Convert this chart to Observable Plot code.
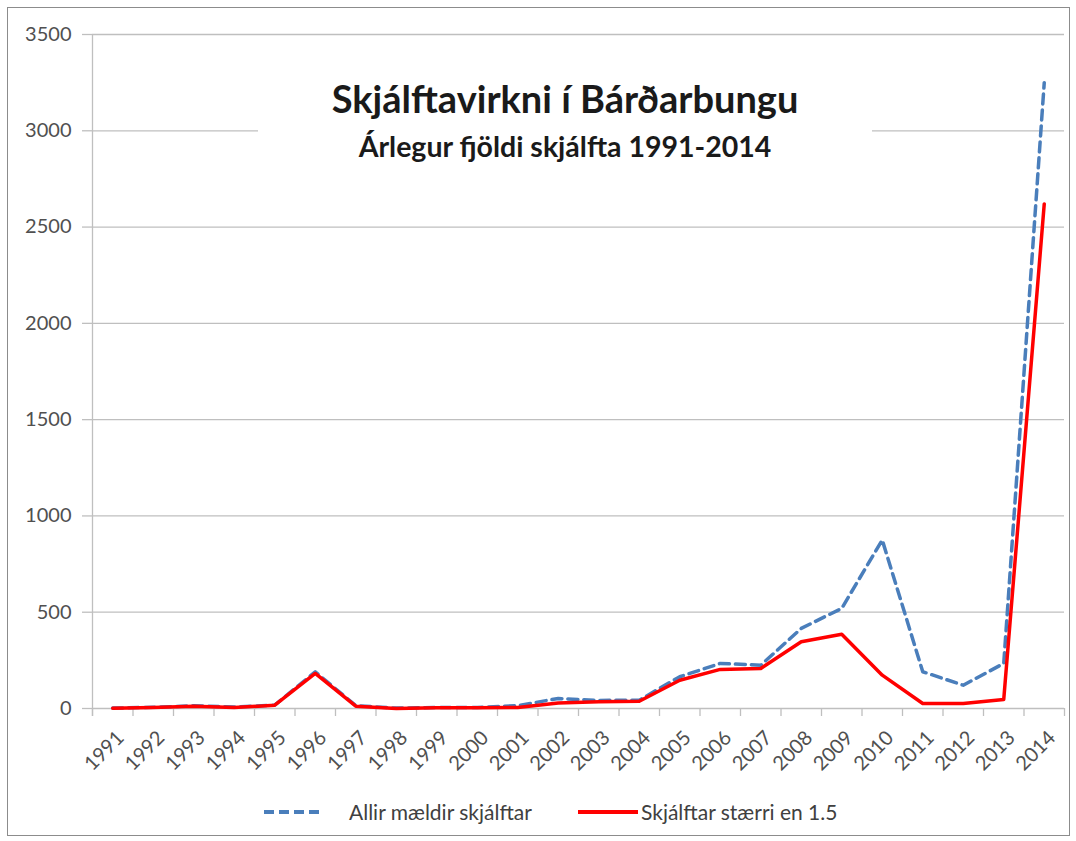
<!DOCTYPE html>
<html>
<head>
<meta charset="utf-8">
<script src="https://cdn.jsdelivr.net/npm/d3@7"></script>
<script src="https://cdn.jsdelivr.net/npm/@observablehq/plot@0.6"></script>
<style>
  html, body { margin: 0; padding: 0; background: #ffffff; }
  #wrap { position: relative; width: 1076px; height: 841px; overflow: hidden; font-family: Lato, "Open Sans", sans-serif; }
  #frame { position: absolute; left: 7px; top: 7px; width: 1061px; height: 827px; border: 1.5px solid #8c8c8c; }
  #chart { position: absolute; left: 0; top: 0; }
  #titlebox { position: absolute; left: 258px; top: 66px; width: 614px; height: 120px; background: #ffffff; }
  .t1 { position: absolute; left: 0; width: 100%; text-align: center; font-weight: 700; color: #1a1a1a; white-space: nowrap; }
  .leg { position: absolute; font-size: 21px; color: #404040; line-height: 26px; white-space: nowrap; }
  .sw { position: absolute; }
</style>
</head>
<body>
<div id="wrap">
  <div id="frame"></div>
  <div id="chart"></div>
  <div id="titlebox">
    <div class="t1" id="title" style="top:9px; font-size:38px; line-height:46px;"></div>
    <div class="t1" id="subtitle" style="top:63px; font-size:28.5px; line-height:34px;"></div>
  </div>
  <div id="legend"></div>
</div>
<script>
const titleText = "Skjálftavirkni í Bárðarbungu";
const subtitleText = "Árlegur fjöldi skjálfta 1991-2014";

const years = [1991, 1992, 1993, 1994, 1995, 1996, 1997, 1998, 1999, 2000, 2001, 2002,
               2003, 2004, 2005, 2006, 2007, 2008, 2009, 2010, 2011, 2012, 2013, 2014];
// Allir mældir skjálftar (all measured earthquakes)
const allQuakes = [2, 6, 14, 8, 18, 190, 15, 2, 5, 5, 15, 52,
                   42, 43, 165, 234, 225, 416, 520, 875, 191, 121, 234, 3250];
// Skjálftar stærri en 1.5 (earthquakes larger than 1.5)
const largerQuakes = [1, 5, 12, 5, 17, 182, 12, 0, 4, 4, 5, 29,
                      35, 38, 147, 203, 208, 347, 386, 173, 26, 26, 47, 2620];
const yTicks = [0, 500, 1000, 1500, 2000, 2500, 3000, 3500];
const seriesNames = ["Allir mældir skjálftar", "Skjálftar stærri en 1.5"];
const seriesColors = ["#4a7ebb", "#ff0000"];

const allData = years.map((year, i) => ({year, value: allQuakes[i]}));
const largerData = years.map((year, i) => ({year, value: largerQuakes[i]}));
const boundaries = [...years.map(y => y - 0.5), years[years.length - 1] + 0.5];

const GRID = "#bfbfbf";
const LABEL = "#505050";

const chart = Plot.plot({
  width: 1076,
  height: 790,
  marginLeft: 92,
  marginRight: 12,
  marginTop: 34,
  marginBottom: 82,
  style: {fontFamily: "Lato, 'Open Sans', sans-serif", fontSize: "20px", color: LABEL, background: "transparent"},
  x: {type: "linear", domain: [boundaries[0], boundaries[boundaries.length - 1]], label: null},
  y: {domain: [0, 3500], label: null},
  marks: [
    Plot.gridY(yTicks, {stroke: GRID, strokeOpacity: 1, strokeWidth: 1.3}),
    Plot.ruleX([boundaries[0]], {stroke: GRID, strokeWidth: 1.3, insetBottom: -8}),
    Plot.axisY(yTicks, {tickSize: 10, tickPadding: 11, stroke: GRID, strokeWidth: 1.3, fill: LABEL, tickFormat: d => String(d), label: null}),
    Plot.axisX(boundaries, {tickSize: 8, tickFormat: () => "", stroke: GRID, strokeWidth: 1.3, label: null}),
    Plot.axisX(years, {tickSize: 0, tickPadding: 26, tickRotate: -45, tickFormat: d => String(d), dx: 8, fill: LABEL, label: null}),
    Plot.line(allData, {x: "year", y: "value", stroke: seriesColors[0], strokeWidth: 3.5, strokeDasharray: "10,6"}),
    Plot.line(largerData, {x: "year", y: "value", stroke: seriesColors[1], strokeWidth: 3.5})
  ]
});
document.getElementById("chart").appendChild(chart);

document.getElementById("title").textContent = titleText;
document.getElementById("subtitle").textContent = subtitleText;

// Legend
const legend = document.getElementById("legend");
const legendItems = [
  {swLeft: 264, swWidth: 58, textLeft: 349, dash: "10,5"},
  {swLeft: 578, swWidth: 60, textLeft: 641, dash: null}
];
legendItems.forEach((it, i) => {
  const ns = "http://www.w3.org/2000/svg";
  const svg = document.createElementNS(ns, "svg");
  svg.setAttribute("width", it.swWidth);
  svg.setAttribute("height", 8);
  svg.setAttribute("class", "sw");
  svg.style.left = it.swLeft + "px";
  svg.style.top = "808px";
  const line = document.createElementNS(ns, "line");
  line.setAttribute("x1", 0); line.setAttribute("x2", it.swWidth);
  line.setAttribute("y1", 4); line.setAttribute("y2", 4);
  line.setAttribute("stroke", seriesColors[i]);
  line.setAttribute("stroke-width", 4);
  if (it.dash) line.setAttribute("stroke-dasharray", it.dash);
  svg.appendChild(line);
  legend.appendChild(svg);
  const span = document.createElement("div");
  span.className = "leg";
  span.style.left = it.textLeft + "px";
  span.style.top = "799px";
  span.textContent = seriesNames[i];
  legend.appendChild(span);
});
</script>
</body>
</html>
